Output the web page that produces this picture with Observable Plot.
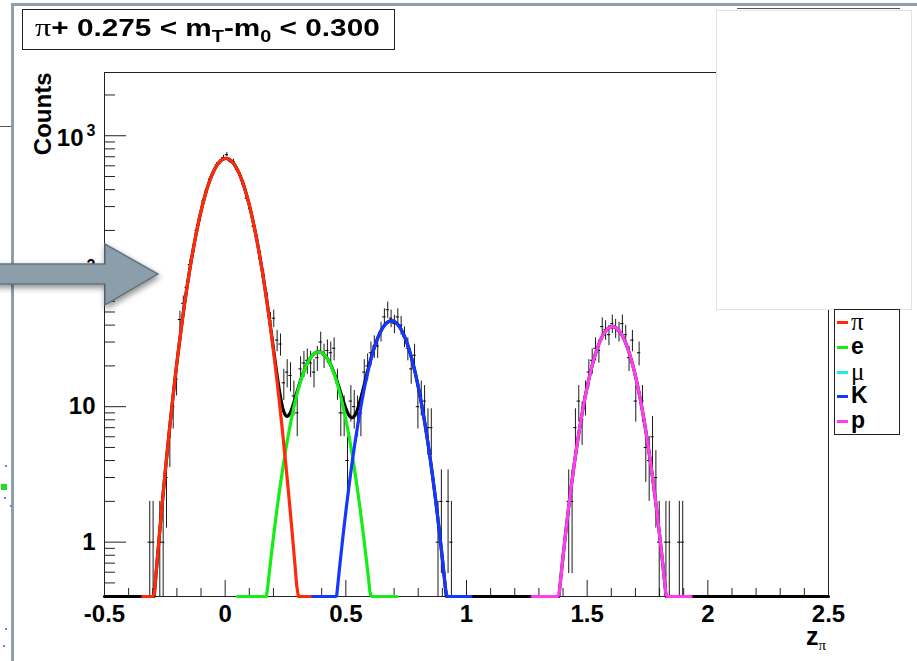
<!DOCTYPE html>
<html>
<head>
<meta charset="utf-8">
<script src="https://cdn.jsdelivr.net/npm/d3@7"></script>
<script src="https://cdn.jsdelivr.net/npm/@observablehq/plot@0.6"></script>
<style>
  body { margin: 0; background: #fff; }
  #wrap { position: relative; width: 917px; height: 661px; overflow: hidden;
          font-family: "Liberation Sans", Arial, Helvetica, sans-serif; }
  #wrap svg { position: absolute; left: 0; top: 0; }
  .abs { position: absolute; }
  .sym { font-family: "Liberation Serif", "DejaVu Serif", serif; font-weight: normal; }
  #title { left: 22px; top: 9px; width: 371px; height: 39px; border: 1.5px solid #222; background: #fff;
           font-weight: bold; font-size: 24px; line-height: 36px; white-space: nowrap; box-sizing: content-box; }
  #title span.t { position: absolute; left: 12px; top: 0; transform: scaleX(1.24); transform-origin: 0 50%; }
  #title sub { font-size: 16px; vertical-align: -6px; line-height: 0; }
  #legend { left: 834px; top: 309px; width: 64px; height: 124px; border: 1px solid #222; background: #fff; }
  .entry { position: absolute; left: 0; height: 25px; width: 64px; }
  .entry .swatch { position: absolute; left: 2px; width: 11px; height: 3px; }
  .entry .lab { position: absolute; left: 16px; font-size: 23px; line-height: 25px; top: -13px; }
  #xlabel { left: 806px; top: 629px; font-weight: bold; font-size: 25px; line-height: 14px; }
  #xlabel sub { font-size: 15px; vertical-align: -5px; line-height: 0; }
</style>
</head>
<body>
<div id="wrap"></div>
<script>
// ---- Histogram of z_pi: 216 equal bins over [-0.5, 2.5]; counts listed from bin 13 on
const zRange = [-0.5, 2.5];
const nBins = 216;
const firstBin = 13;
const counts = [
  1, 1, 0, 1, 1, 3, 6, 10, 16, 44,
  58, 76, 112, 140, 200, 250, 330, 395, 480, 535,
  610, 640, 690, 725, 650, 645, 565, 510, 440, 345,
  290, 215, 172, 125, 92, 62, 43, 45, 31, 29,
  15, 18, 17, 12, 9, 19, 21, 22, 21, 18,
  23, 30, 24, 26, 25, 27, 15, 9, 9, 4,
  11, 10, 9, 9, 18, 20, 25, 28, 28, 36,
  46, 52, 45, 41, 46, 40, 33, 27, 19, 24,
  10, 12, 11, 7, 7, 0, 1, 2, 0, 2,
  1, 0, 0, 0, 0, 0, 0, 0, 0, 0,
  0, 0, 0, 0, 0, 0, 0, 0, 0, 0,
  0, 0, 0, 0, 0, 0, 0, 0, 0, 0,
  0, 0, 0, 0, 0, 2, 2, 7, 11, 8,
  12, 18, 22, 27, 26, 39, 37, 34, 41, 38,
  36, 41, 34, 23, 31, 11, 25, 11, 5, 4,
  6, 3, 1, 0, 1, 1, 0, 0, 1, 1
];

// ---- Gaussian fit components (amplitude, mean, sigma, fit range)
const species = ["π", "e", "μ", "K", "p"];
const speciesColors = ["#ff2a0a", "#14ee14", "#14f0f0", "#1438ff", "#ff3cf0"];
const speciesSymbolFont = [true, false, true, false, false];
const fitAmp = [680, 25.4, 0, 43, 39];
const fitMean = [0.003, 0.387, 0.55, 0.689, 1.605];
const fitSigma = [0.077, 0.0745, 0.075, 0.0742, 0.0733];
const fitLo = [-0.342, 0.052, 0.22, 0.356, 1.272];
const fitHi = [0.352, 0.712, 0.88, 1.019, 1.931];

// ---- Axes
const yDomain = [0.397, 2930];
const xTicksMajor = [-0.5, 0, 0.5, 1, 1.5, 2, 2.5];
const xTickLabels = ["-0.5", "0", "0.5", "1", "1.5", "2", "2.5"];
const yTicksMajor = [1, 10, 100, 1000];
const yTickBase = ["1", "10", "10", "10"];
const yTickExponent = ["", "", "2", "3"];

const binWidth = (zRange[1] - zRange[0]) / nBins;
const xMinor = d3.range(-5, 26).filter(t => t % 5 !== 0).map(t => t / 10);
const yMinor = [0.1, 1, 10, 100, 1000]
  .flatMap(dec => d3.range(2, 10).map(m => +(m * dec).toPrecision(3)))
  .filter(v => v > yDomain[0] && v < yDomain[1]);

const yLabels = yTicksMajor.map((v, i) => ({ v, base: yTickBase[i], exp: yTickExponent[i] }));
const plainLabels = yLabels.filter(d => !d.exp);
const powerLabels = yLabels.filter(d => d.exp);

const bins = counts
  .map((n, i) => ({ z: zRange[0] + binWidth * (firstBin + i + 0.5), n }))
  .filter(d => d.n > 0);

const gauss = (a, m, s, z) => a * Math.exp(-0.5 * ((z - m) / s) ** 2);
const comps = species.map((name, i) => ({
  name, color: speciesColors[i], a: fitAmp[i], m: fitMean[i], s: fitSigma[i], lo: fitLo[i], hi: fitHi[i]
}));
const floor = yDomain[0];
// functions below the axis minimum are drawn along the bottom edge
const sample = (lo, hi, n, f) => d3.range(n + 1).map(j => {
  const z = lo + (hi - lo) * j / n;
  return { z, v: Math.max(f(z), floor) };
});
const total = sample(zRange[0], zRange[1], 1500,
  z => comps.reduce((s, c) => s + gauss(c.a, c.m, c.s, z), 0));
const drawOrder = [1, 3, 4, 0].map(i => comps[i]).filter(c => c.a > 0);

const labelFont = { fontSize: 24, fontWeight: "bold" };

const chart = Plot.plot({
  width: 917,
  height: 661,
  marginLeft: 104,
  marginRight: 89,
  marginTop: 72,
  marginBottom: 65,
  style: { fontFamily: "'Liberation Sans', Arial, sans-serif", background: "transparent", color: "#000" },
  x: { domain: zRange },
  y: { type: "log", domain: yDomain },
  marks: [
    Plot.frame({ stroke: "#222", strokeWidth: 1 }),
    // ticks drawn inward, ROOT style
    Plot.axisX(xMinor, { tickSize: -8, fill: "none", label: null, stroke: "#222" }),
    Plot.axisX(xTicksMajor, { tickSize: -16, fill: "none", label: null, stroke: "#222" }),
    Plot.axisX(xTicksMajor, {
      tickSize: 0, tickPadding: 8, label: null, ...labelFont,
      tickFormat: d => xTickLabels[xTicksMajor.indexOf(d)]
    }),
    Plot.axisY(yMinor, { tickSize: -11, fill: "none", label: null, stroke: "#222" }),
    Plot.axisY(yTicksMajor, { tickSize: -22, fill: "none", label: null, stroke: "#222" }),
    Plot.text(plainLabels, { y: "v", text: "base", frameAnchor: "left", textAnchor: "end", dx: -9, ...labelFont }),
    Plot.text(powerLabels, { y: "v", text: "base", frameAnchor: "left", textAnchor: "end", dx: -21, dy: 3, ...labelFont }),
    Plot.text(powerLabels, { y: "v", text: "exp", frameAnchor: "left", textAnchor: "end", dx: -9, dy: -5, fontSize: 16, fontWeight: "bold" }),
    Plot.text(["Counts"], {
      text: d => d, frameAnchor: "top-left", rotate: -90, textAnchor: "end",
      dx: -71, fontSize: 24, fontWeight: "bold"
    }),
    // data with Poisson error bars
    Plot.ruleX(bins, {
      x: "z", y1: d => Math.max(d.n - Math.sqrt(d.n), floor), y2: d => d.n + Math.sqrt(d.n),
      stroke: "#1a1a1a", strokeWidth: 1
    }),
    Plot.ruleY(bins, {
      y: "n", x1: d => d.z - binWidth / 2, x2: d => d.z + binWidth / 2,
      stroke: "#000", strokeWidth: 1
    }),
    // total fit, then the individual species
    Plot.line(total, { x: "z", y: "v", stroke: "#000", strokeWidth: 3.2 }),
    ...drawOrder.map(c => Plot.line(
      sample(c.lo, c.hi, 100, z => gauss(c.a, c.m, c.s, z)),
      { x: "z", y: "v", stroke: c.color, strokeWidth: 3.2, strokeLinejoin: "round" }
    ))
  ]
});

const wrap = document.getElementById("wrap");
wrap.appendChild(chart);

// ---- page furniture around the plot
const add = (html) => wrap.insertAdjacentHTML("beforeend", html);
add(`<div class="abs" style="left:11px;top:3px;width:906px;height:3px;background:#8e9faa"></div>`);
add(`<div class="abs" style="left:11px;top:3px;width:3px;height:658px;background:#8e9faa"></div>`);
add(`<div class="abs" style="left:0;top:126px;width:11px;height:1px;background:#555"></div>`);
add(`<div class="abs" style="left:1px;top:484px;width:6px;height:6px;background:#22dd22"></div>`);
[[5,465],[4,497],[10,505],[5,628],[3,645]].forEach(([x, y]) =>
  add(`<div class="abs" style="left:${x}px;top:${y}px;width:2px;height:2px;background:#8a6cf0"></div>`));

add(`<div id="title" class="abs"><span class="t"><span class="sym" style="font-size:26px">π</span>+ 0.275 &lt; m<sub>T</sub>-m<sub>0</sub> &lt; 0.300</span></div>`);

add(`<div class="abs" style="left:737px;top:8px;width:163px;height:1px;background:#555"></div>`);
add(`<div class="abs" style="left:716px;top:10px;width:194px;height:298px;background:#fff;border:1px solid #e2e2e2"></div>`);

let legendHtml = `<div id="legend" class="abs">`;
species.forEach((s, i) => {
  const font = speciesSymbolFont[i]
    ? `font-family:'Liberation Serif','DejaVu Serif',serif;font-weight:normal;font-size:25px`
    : `font-weight:bold`;
  legendHtml += `<div class="entry" style="top:${12 + i * 24.8}px">
    <div class="swatch" style="top:-1px;background:${speciesColors[i]}"></div>
    <div class="lab" style="${font}">${s}</div></div>`;
});
legendHtml += `</div>`;
add(legendHtml);

add(`<div id="xlabel" class="abs">z<sub class="sym">π</sub></div>`);

// annotation arrow over the left edge
add(`<svg class="abs" style="left:0;top:230px" width="180" height="95" viewBox="0 230 180 95">
  <defs><filter id="sh" x="-20%" y="-30%" width="140%" height="160%">
    <feGaussianBlur in="SourceAlpha" stdDeviation="3"/><feOffset dx="1" dy="3"/>
    <feComponentTransfer><feFuncA type="linear" slope="0.45"/></feComponentTransfer>
    <feMerge><feMergeNode/><feMergeNode in="SourceGraphic"/></feMerge></filter></defs>
  <path d="M-5,264 L105,264 L105,244 L158,274 L105,305 L105,284 L-5,284 Z"
        fill="#8c9ea9" stroke="#617480" stroke-width="1.5" filter="url(#sh)"/>
</svg>`);
</script>
</body>
</html>
